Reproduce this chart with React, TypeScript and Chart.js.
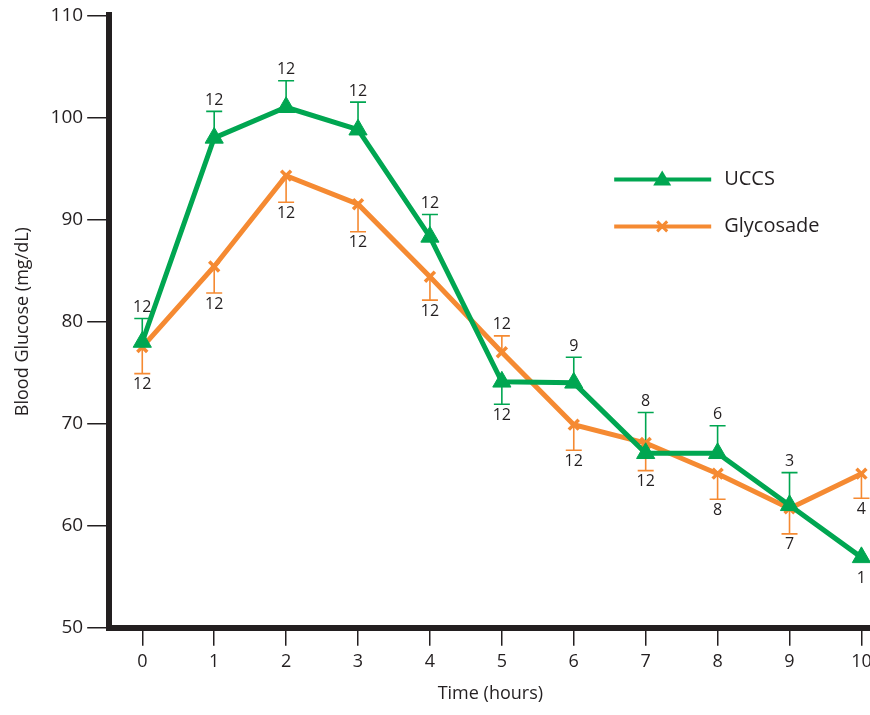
import React, { useEffect, useRef } from "react";
import { Chart, registerables } from "chart.js";

Chart.register(...registerables);

const hours = [0, 1, 2, 3, 4, 5, 6, 7, 8, 9, 10];
const yTicks = [50, 60, 70, 80, 90, 100, 110];

const uccsMean = [78.0, 98.0, 101.0, 98.8, 88.3, 74.1, 74.0, 67.1, 67.1, 62.0, 56.9];
const uccsErr = [2.3, 2.6, 2.6, 2.7, 2.2, 2.2, 2.5, 4.0, 2.7, 3.2, 0];
const uccsErrDir = [1, 1, 1, 1, 1, -1, 1, 1, 1, 1, -1];
const uccsN = [12, 12, 12, 12, 12, 12, 9, 8, 6, 3, 1];

const glyMean = [77.5, 85.4, 94.3, 91.5, 84.4, 77.0, 69.9, 68.1, 65.1, 61.7, 65.1];
const glyErr = [2.6, 2.6, 2.6, 2.7, 2.3, 1.6, 2.5, 2.7, 2.5, 2.5, 2.4];
const glyErrDir = [-1, -1, -1, -1, -1, 1, -1, -1, -1, -1, -1];
const glyN = [12, 12, 12, 12, 12, 12, 12, 12, 8, 7, 4];

const GREEN = "#00a651";
const ORANGE = "#f58a32";
const INK = "#231f20";
const FONT = "'Open Sans', sans-serif";

const series = [
  { label: "UCCS", mean: uccsMean, err: uccsErr, dir: uccsErrDir, n: uccsN, color: GREEN, style: "triangle" },
  { label: "Glycosade", mean: glyMean, err: glyErr, dir: glyErrDir, n: glyN, color: ORANGE, style: "crossRot" },
];

const errorBarPlugin = {
  id: "errorBars",
  beforeDatasetsDraw(chart: any) {
    const { ctx, scales } = chart;
    const xs = scales.x;
    const ys = scales.y;
    ctx.save();
    ctx.lineWidth = 1.6;
    series.forEach((s) => {
      ctx.strokeStyle = s.color;
      hours.forEach((h, i) => {
        if (!s.err[i]) return;
        const x = xs.getPixelForValue(h);
        const y0 = ys.getPixelForValue(s.mean[i]);
        const y1 = ys.getPixelForValue(s.mean[i] + s.dir[i] * s.err[i]);
        ctx.beginPath();
        ctx.moveTo(x, y0);
        ctx.lineTo(x, y1);
        ctx.moveTo(x - 8, y1);
        ctx.lineTo(x + 8, y1);
        ctx.stroke();
      });
    });
    ctx.restore();
  },
  afterDatasetsDraw(chart: any) {
    const { ctx, scales, chartArea } = chart;
    const xs = scales.x;
    const ys = scales.y;
    ctx.save();
    ctx.fillStyle = INK;
    ctx.font = `16px ${FONT}`;
    ctx.textAlign = "center";
    ctx.textBaseline = "middle";
    series.forEach((s) => {
      hours.forEach((h, i) => {
        const x = xs.getPixelForValue(h);
        const yEnd = ys.getPixelForValue(s.mean[i] + s.dir[i] * s.err[i]);
        const gap = s.err[i] ? 11 : 21;
        const y = s.dir[i] > 0 ? yEnd - gap : yEnd + gap;
        ctx.fillText(String(s.n[i]), x, y);
      });
    });
    // legend
    const lx = chartArea.left + 505;
    series.forEach((s, k) => {
      const y = chartArea.top + 164 + k * 47;
      ctx.strokeStyle = s.color;
      ctx.lineWidth = 4;
      ctx.beginPath();
      ctx.moveTo(lx, y);
      ctx.lineTo(lx + 97, y);
      ctx.stroke();
      const cx = lx + 48;
      if (s.style === "triangle") {
        ctx.fillStyle = s.color;
        ctx.beginPath();
        ctx.moveTo(cx, y - 9);
        ctx.lineTo(cx + 9, y + 6);
        ctx.lineTo(cx - 9, y + 6);
        ctx.closePath();
        ctx.fill();
      } else {
        ctx.lineWidth = 3;
        ctx.beginPath();
        ctx.moveTo(cx - 5, y - 5);
        ctx.lineTo(cx + 5, y + 5);
        ctx.moveTo(cx + 5, y - 5);
        ctx.lineTo(cx - 5, y + 5);
        ctx.stroke();
      }
      ctx.fillStyle = INK;
      ctx.font = `20px ${FONT}`;
      ctx.textAlign = "left";
      ctx.fillText(s.label, lx + 110, y);
    });
    ctx.restore();
  },
};

export default function App() {
  const ref = useRef<HTMLCanvasElement | null>(null);
  useEffect(() => {
    if (!ref.current) return;
    const chart = new Chart(ref.current, {
      type: "line",
      data: {
        datasets: series.map((s) => ({
          label: s.label,
          data: hours.map((h, i) => ({ x: h, y: s.mean[i] })),
          borderColor: s.color,
          backgroundColor: s.color,
          borderWidth: 5,
          pointStyle: s.style as any,
          pointRadius: s.style === "triangle" ? 10.5 : 7,
          pointBorderWidth: s.style === "triangle" ? 1 : 3.5,
          pointBorderColor: s.color,
          pointBackgroundColor: s.color,
          tension: 0,
        })),
      },
      plugins: [errorBarPlugin],
      options: {
        animation: false,
        responsive: true,
        maintainAspectRatio: false,
        layout: { padding: { top: 11, left: 12, right: 0, bottom: 10 } },
        plugins: { legend: { display: false }, tooltip: { enabled: false } },
        scales: {
          x: {
            type: "linear",
            min: -0.46,
            max: 10.14,
            afterBuildTicks: (scale: any) => {
              scale.ticks = hours.map((v) => ({ value: v }));
            },
            ticks: { color: INK, font: { family: FONT, size: 18 }, padding: 5, autoSkip: false, maxRotation: 0 },
            grid: { drawOnChartArea: false, drawTicks: true, tickLength: 18, color: INK, lineWidth: 1.5 },
            border: { display: true, color: INK, width: 6 },
            title: { display: true, text: "Time (hours)", color: INK, font: { family: FONT, size: 18 }, padding: { top: 6, bottom: 0 } },
          },
          y: {
            min: 50,
            max: 110,
            afterBuildTicks: (scale: any) => {
              scale.ticks = yTicks.map((v) => ({ value: v }));
            },
            ticks: { color: INK, font: { family: FONT, size: 19 }, padding: 4 },
            grid: { drawOnChartArea: false, drawTicks: true, tickLength: 22, color: INK, lineWidth: 1.5 },
            border: { display: true, color: INK, width: 6 },
            title: { display: true, text: "Blood Glucose (mg/dL)", color: INK, font: { family: FONT, size: 18 }, padding: { top: 0, bottom: 13 } },
          },
        },
      },
    });
    return () => chart.destroy();
  }, []);
  return (
    <div style={{ position: "absolute", left: 0, top: 0, width: 870, height: 715, overflow: "hidden", background: "#fff" }}>
      <div style={{ position: "relative", width: 883, height: 715 }}>
        <canvas ref={ref} />
      </div>
    </div>
  );
}
